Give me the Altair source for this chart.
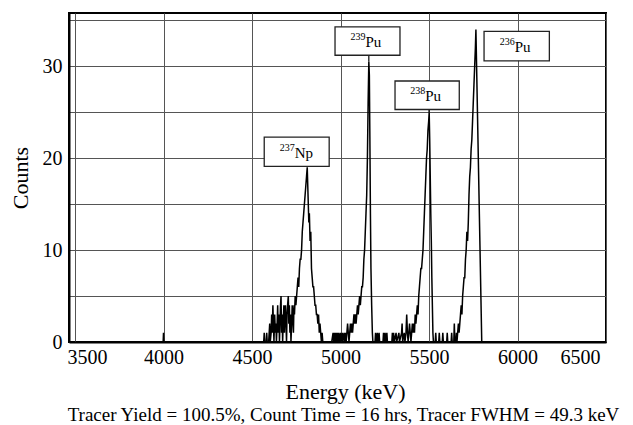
import altair as alt
import pandas as pd

# ---- spectrum data (energy in keV, counts per channel) ----
spike_keV = [3990, 3998, 4000, 4002, 4010]
spike_counts = [0, 0, 1, 0, 0]

np237_keV = [4560, 4566, 4569, 4572, 4580, 4583, 4586, 4594, 4597, 4600,
             4603, 4608, 4611, 4614, 4618, 4621, 4624, 4628, 4632, 4635,
             4638, 4642, 4645, 4648, 4652, 4655, 4658, 4661, 4664, 4667,
             4670, 4673, 4676, 4680, 4683, 4686, 4689, 4692, 4695, 4698,
             4701, 4705, 4708, 4711, 4714, 4717, 4720, 4724, 4727, 4730,
             4734, 4737, 4740, 4744, 4748, 4752, 4756, 4760, 4764, 4768,
             4772, 4776, 4780, 4784, 4788, 4792, 4796, 4800, 4804, 4808,
             4812, 4815, 4818, 4821, 4824, 4828, 4832, 4836, 4840, 4844,
             4848, 4852, 4856, 4860, 4864, 4868, 4872, 4876, 4880, 4884,
             4888, 4892, 4896, 4900]
np237_counts = [0, 0, 1, 0, 0, 1, 0, 0, 1, 2,
                0, 1, 3, 1, 4, 2, 0, 3, 1, 2,
                0, 2, 4, 1, 3, 0, 2, 4, 5, 1,
                3, 0, 2, 4, 1, 3, 4, 2, 0, 3,
                4, 5, 2, 4, 1, 3, 0, 2, 4, 3,
                1, 4, 3, 5, 4, 5, 6, 7, 6, 8,
                9, 9, 10, 12, 13, 14, 15, 16, 17, 18,
                19, 17, 15, 13, 14, 11, 12, 8, 7, 6,
                6, 5, 4, 4, 3, 3, 2, 3, 1, 2,
                1, 0, 1, 0]

pu239_keV = [4950, 4958, 4961, 4966, 4969, 4974, 4977, 4982, 4985, 4990,
             4993, 5000, 5003, 5010, 5013, 5020, 5024, 5028, 5032, 5036,
             5040, 5044, 5048, 5052, 5056, 5060, 5064, 5068, 5072, 5076,
             5080, 5084, 5088, 5092, 5096, 5100, 5104, 5108, 5112, 5116,
             5120, 5124, 5128, 5132, 5136, 5140, 5144, 5148, 5152, 5156,
             5160, 5163, 5166, 5169, 5172, 5176, 5180, 5183]
pu239_counts = [0, 1, 0, 1, 0, 1, 0, 1, 0, 1,
                0, 1, 0, 1, 0, 1, 0, 1, 0, 1,
                2, 1, 0, 1, 2, 1, 2, 1, 2, 3,
                2, 3, 2, 3, 4, 3, 4, 5, 4, 5,
                6, 6, 7, 9, 10, 12, 14, 16, 20, 26,
                30.5, 29, 22, 14, 8, 4, 1, 0]

gap1_keV = [5195, 5198, 5201, 5208, 5211, 5218, 5221, 5240, 5243, 5246,
            5252, 5255, 5262, 5265, 5290, 5293, 5296, 5300, 5303, 5314,
            5317, 5330, 5333, 5345, 5348, 5351, 5360, 5364, 5370, 5374,
            5378, 5382, 5386, 5390, 5394]
gap1_counts = [0, 1, 0, 1, 0, 1, 0, 0, 1, 0,
               1, 0, 1, 0, 0, 1, 0, 1, 0, 1,
               0, 1, 0, 1, 2, 0, 1, 0, 1, 3,
               1, 0, 1, 2, 1]

pu238_keV = [5398, 5402, 5406, 5410, 5414, 5418, 5422, 5426, 5430, 5434,
             5438, 5442, 5446, 5450, 5454, 5458, 5462, 5466, 5470, 5474,
             5478, 5482, 5486, 5490, 5494, 5498, 5501, 5504, 5507, 5510,
             5513, 5516, 5519, 5522, 5525]
pu238_counts = [0, 1, 2, 1, 2, 1, 3, 2, 3, 4,
                3, 5, 6, 7, 8, 8, 9, 10, 12, 14,
                16, 18, 20, 21, 23, 24, 25, 22, 18, 14,
                11, 7, 4, 1, 0]

gap2_keV = [5535, 5538, 5541, 5555, 5558, 5561, 5575, 5578, 5581, 5600,
            5603, 5606, 5625, 5628, 5631, 5640, 5643, 5646]
gap2_counts = [0, 1, 0, 0, 1, 0, 0, 1, 0, 0,
               1, 0, 0, 1, 0, 0, 2, 0]

pu236_keV = [5652, 5655, 5658, 5662, 5666, 5670, 5674, 5678, 5682, 5686,
             5690, 5694, 5698, 5702, 5706, 5710, 5714, 5718, 5722, 5726,
             5730, 5734, 5738, 5742, 5746, 5750, 5754, 5758, 5762, 5765,
             5798, 5810]
pu236_counts = [0, 1, 0, 1, 2, 1, 2, 3, 4, 3,
                5, 6, 7, 7, 9, 10, 12, 11, 13, 16,
                18, 19, 21, 22, 24, 26, 28, 30, 32, 34,
                0, 0]

# ---- peak labels ----
label_mass = ["237", "239", "238", "236"]
label_elem = ["Np", "Pu", "Pu", "Pu"]
box_x1 = [4569, 4969, 5308, 5811]
box_x2 = [4936, 5336, 5671, 6180]
box_y1 = [19.1, 31.2, 25.3, 30.6]
box_y2 = [22.3, 34.3, 28.4, 33.8]

leader_keV = [5160, 5500]
leader_y1 = [30.5, 25.0]
leader_y2 = [31.2, 25.3]

x_ticks = [3500, 4000, 4500, 5000, 5500, 6000, 6500]
y_grid = [0, 5, 10, 15, 20, 25, 30, 35]

rows = []
for ks, cs in [(spike_keV, spike_counts), (np237_keV, np237_counts),
               (pu239_keV, pu239_counts), (gap1_keV, gap1_counts),
               (pu238_keV, pu238_counts), (gap2_keV, gap2_counts),
               (pu236_keV, pu236_counts)]:
    for k, c in zip(ks, cs):
        rows.append({"energy": k, "counts": c})
spec = pd.DataFrame(rows)

boxes = pd.DataFrame({
    "x1": box_x1, "x2": box_x2, "y1": box_y1, "y2": box_y2,
    "mass": label_mass, "elem": label_elem,
})
boxes["xc"] = (boxes["x1"] + boxes["x2"]) / 2
boxes["yc"] = (boxes["y1"] + boxes["y2"]) / 2

leaders = pd.DataFrame({"x": leader_keV, "y1": leader_y1, "y2": leader_y2})

FONT = "Liberation Serif"
xscale = alt.Scale(domain=[3466, 6500], nice=False, zero=False)
yscale = alt.Scale(domain=[0, 35.8], nice=False)
common_axis = dict(
    grid=True, ticks=False,
    labelFont=FONT, labelFontSize=20, labelColor="black",
    titleFont=FONT, titleFontSize=22, titleFontWeight="normal", titleColor="black",
    gridColor="#555", gridWidth=1, gridOpacity=1,
    domainColor="black", domainWidth=2,
)
xaxis = alt.Axis(values=x_ticks, title="Energy (keV)", format="d",
                 labelPadding=5, titlePadding=14, titleX=276,
                 labelOffset={"condition": [
                     {"test": "datum.value == 3500", "value": 12},
                     {"test": "datum.value == 6500", "value": -6}],
                     "value": 0},
                 **common_axis)
yaxis = alt.Axis(values=y_grid, title="Counts", format="d",
                 labelPadding=7, titlePadding=10,
                 labelExpr="datum.value % 10 == 0 ? datum.label : ''",
                 **common_axis)


def X(field):
    return alt.X(field, scale=xscale, axis=xaxis, title="Energy (keV)")


def Y(field):
    return alt.Y(field, scale=yscale, axis=yaxis, title="Counts")


line = alt.Chart(spec).mark_line(color="black", strokeWidth=1.5).encode(
    x=X("energy:Q"), y=Y("counts:Q"),
)

lead = alt.Chart(leaders).mark_rule(color="black", strokeWidth=1.2).encode(
    x=X("x:Q"), y=Y("y1:Q"), y2="y2:Q",
)

rects = alt.Chart(boxes).mark_rect(fill="white", stroke="#222", strokeWidth=1.3).encode(
    x=X("x1:Q"), x2="x2:Q", y=Y("y1:Q"), y2="y2:Q",
)

mass_txt = alt.Chart(boxes).mark_text(font=FONT, fontSize=10, align="right",
                                      baseline="middle", dx=-2, dy=-4,
                                      color="black").encode(
    x=X("xc:Q"), y=Y("yc:Q"), text="mass:N",
)

elem_txt = alt.Chart(boxes).mark_text(font=FONT, fontSize=15, align="left",
                                      baseline="middle", dx=-2, dy=1,
                                      color="black").encode(
    x=X("xc:Q"), y=Y("yc:Q"), text="elem:N",
)

chart = alt.layer(line, lead, rects, mass_txt, elem_txt).properties(
    width=537,
    height=329,
    background="white",
    autosize=alt.AutoSizeParams(type="none"),
    padding={"left": 61, "top": 5, "right": 19, "bottom": 85},
    title=alt.TitleParams(
        text="Tracer Yield = 100.5%, Count Time = 16 hrs, Tracer FWHM = 49.3 keV",
        orient="bottom", anchor="middle", font=FONT, fontSize=19,
        fontWeight="normal", color="black", offset=4, dx=6),
).configure_view(
    stroke="black", strokeWidth=2
)

chart.save("out.html", embed_options={"renderer": "svg", "actions": False})
